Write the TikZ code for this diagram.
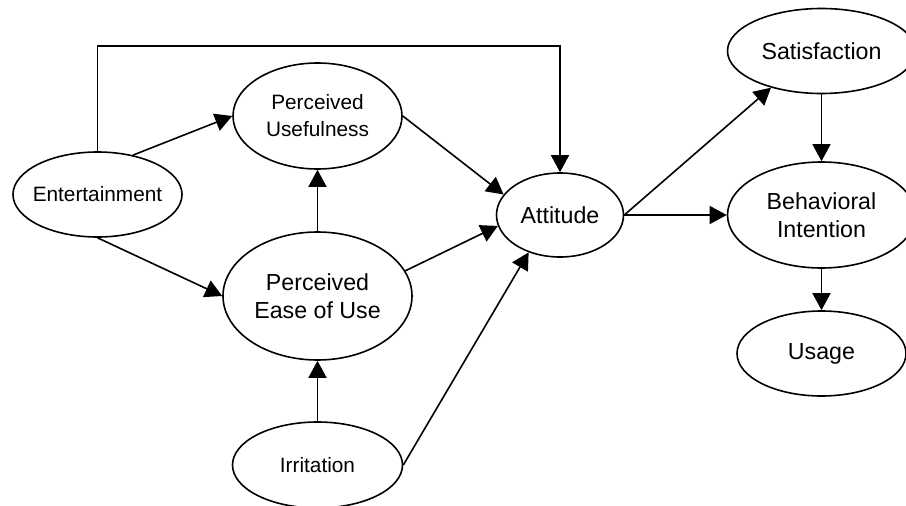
\documentclass[tikz,border=0pt]{standalone}
\usepackage{fontspec}
\setmainfont{Liberation Sans}
\usetikzlibrary{arrows.meta,shapes.geometric}
\begin{document}
\begin{tikzpicture}[x=1pt,y=-1pt,
  ell/.style={draw, ellipse, line width=1.6pt, inner sep=0pt, inner xsep=-15pt, align=center},
  sm/.style={font=\fontsize{20.8}{27}\selectfont},
  lg/.style={font=\fontsize{23.2}{27.5}\selectfont},
  arr/.style={line width=1.6pt, -{Triangle[length=17pt,width=18pt]}}]
\useasboundingbox (0,0) rectangle (906,506);
\clip (0,0) rectangle (906,506);
\node[ell, sm, minimum width=169pt, minimum height=85pt] (ent) at (97.5,194.5) {Entertainment};
\node[ell, sm, minimum width=169pt, minimum height=106pt] (pu) at (317.5,116) {Perceived\\Usefulness};
\node[ell, lg, minimum width=189pt, minimum height=128pt] (peou) at (317.5,296) {Perceived\\Ease of Use};
\node[ell, sm, minimum width=170pt, minimum height=86pt] (irr) at (317.5,465) {Irritation};
\node[ell, lg, minimum width=127pt, minimum height=84pt] (att) at (560,215) {Attitude};
\node[ell, lg, minimum width=188pt, minimum height=85pt] (sat) at (821.5,51) {Satisfaction};
\node[ell, lg, minimum width=188pt, minimum height=106pt] (bi) at (821.5,215) {Behavioral\\Intention};
\node[ell, lg, minimum width=169pt, minimum height=85pt] (use) at (821.5,353.5) {Usage};
\coordinate (top) at (0,46);
\draw[arr] (ent.north) -- (ent.north |- top) -- (att.north |- top) -- (att.north);
\draw[arr] (ent.48) -- (pu.west);
\draw[arr] (ent.south) -- (peou.west);
\draw[arr] (peou.north) -- (pu.south);
\draw[arr] (irr.north) -- (peou.south);
\draw[arr] (pu.east) -- (att.160);
\draw[arr] (peou.16) -- (att.190);
\draw[arr] (irr.east) -- (att.230);
\draw[arr] (att.east) -- (sat.216);
\draw[arr] (att.east) -- (bi.west);
\draw[arr] (sat.south) -- (bi.north);
\draw[arr] (bi.south) -- (use.north);
\end{tikzpicture}
\end{document}
